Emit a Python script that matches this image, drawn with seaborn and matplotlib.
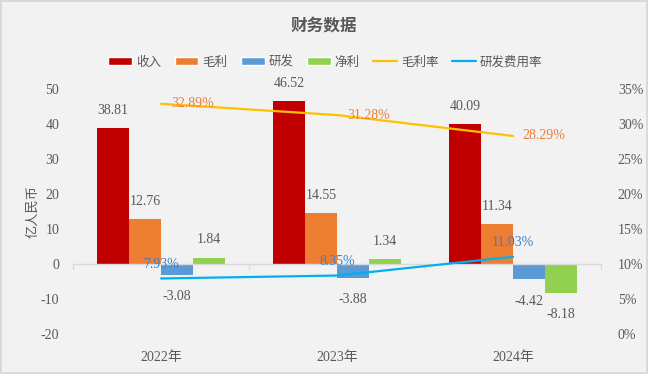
import pandas as pd
import seaborn as sns
import matplotlib.pyplot as plt
from matplotlib.patches import Patch
from matplotlib.lines import Line2D

# Data (亿人民币 / %)
years = ["2022年", "2023年", "2024年"]
revenue = [38.81, 46.52, 40.09]
gross_profit = [12.76, 14.55, 11.34]
rnd = [-3.08, -3.88, -4.42]
net_profit = [1.84, 1.34, -8.18]
gross_margin = [32.89, 31.28, 28.29]
rnd_ratio = [7.93, 8.35, 11.03]

bar_names = ["收入", "毛利", "研发", "净利"]
bar_colors = ["#C00000", "#ED7D31", "#5B9BD5", "#92D050"]
line_names = ["毛利率", "研发费用率"]
line_colors = ["#FFC000", "#00B0F0"]

BG = "#F2F2F2"
TXT = "#595959"

sns.set_theme(style="white")
plt.rcParams['font.family'] = ['Liberation Serif', 'Noto Sans CJK SC', 'DejaVu Sans']
plt.rcParams['axes.unicode_minus'] = False

df = pd.DataFrame({
    "year": years * 4,
    "metric": [n for n in bar_names for _ in years],
    "value": revenue + gross_profit + rnd + net_profit,
})

fig = plt.figure(figsize=(6.48, 3.74), dpi=100, facecolor=BG,
                 edgecolor="#D9D9D9", linewidth=1.5)
ax = fig.add_axes([0.1127, 0.107, 0.815, 0.655])
ax.set_facecolor(BG)

sns.barplot(data=df, x="year", y="value", hue="metric", hue_order=bar_names,
            palette=bar_colors, width=0.73, saturation=1, gap=0,
            linewidth=0, legend=False, ax=ax)

# value labels: above positive bars, below negative ones
for cont, vals in zip(ax.containers, [revenue, gross_profit, rnd, net_profit]):
    pos = [f"{v:.2f}" if v >= 0 else "" for v in vals]
    neg = [f"{v:.2f}" if v < 0 else "" for v in vals]
    ax.bar_label(cont, labels=pos, padding=8, color=TXT, fontsize=10)
    ax.bar_label(cont, labels=neg, padding=11, color=TXT, fontsize=10)

ax.set_ylim(-20, 50)
ax.set_yticks(range(-20, 51, 10))
ax.set_xlim(-0.5, 2.5)
ax.set_xlabel("")
ax.set_ylabel("亿人民币", color=TXT, fontsize=9.5, labelpad=1)
ax.tick_params(axis="both", length=0, colors=TXT, labelsize=10)
ax.tick_params(axis="x", pad=12)
ax.tick_params(axis="y", pad=10)
for s in ax.spines.values():
    s.set_visible(False)

# zero line with category separators
ax.axhline(0, color="#D9D9D9", lw=1, zorder=1)
for b in [-0.5, 0.5, 1.5, 2.5]:
    ax.plot([b, b], [0, -1.4], color="#D9D9D9", lw=1, zorder=1, clip_on=False)

# right axis: ratios
ax2 = ax.twinx()
idx = list(range(len(years)))
sns.lineplot(x=idx, y=gross_margin, color=line_colors[0], lw=1.6, ax=ax2)
sns.lineplot(x=idx, y=rnd_ratio, color=line_colors[1], lw=1.6, ax=ax2)
ax2.set_ylim(0, 35)
ax2.set_yticks(range(0, 36, 5))
ax2.set_yticklabels([f"{t}%" for t in range(0, 36, 5)])
ax2.set_xlim(-0.5, 2.5)
ax2.set_ylabel("")
ax2.tick_params(axis="y", length=0, colors=TXT, labelsize=10, pad=12)
for s in ax2.spines.values():
    s.set_visible(False)

for i, v in enumerate(gross_margin):
    ax2.annotate(f"{v:.2f}%", (i, v), xytext=(7, 0), textcoords="offset points",
                 ha="left", va="center", color="#ED7D31", fontsize=10)
for i, v in enumerate(rnd_ratio):
    ax2.annotate(f"{v:.2f}%", (i, v), xytext=(0, 10), textcoords="offset points",
                 ha="center", va="center", color="#3A7FD0", fontsize=10)

fig.suptitle("财务数据", y=0.955, fontsize=12, color=TXT,
             family=['Noto Sans CJK SC'], fontweight="bold")

handles = [Patch(facecolor=c, label=n) for n, c in zip(bar_names, bar_colors)]
handles += [Line2D([0], [0], color=c, lw=1.6, label=n) for n, c in zip(line_names, line_colors)]
leg = fig.legend(handles=handles, loc="center", bbox_to_anchor=(0.502, 0.834), ncol=6,
                 frameon=False, fontsize=9, handlelength=1.9, handleheight=0.55,
                 handletextpad=0.3, columnspacing=1.1)
for t in leg.get_texts():
    t.set_color(TXT)
    t.set_family(['Noto Sans CJK SC'])

fig.savefig("out.png", dpi=100, facecolor=BG, edgecolor=fig.get_edgecolor())
